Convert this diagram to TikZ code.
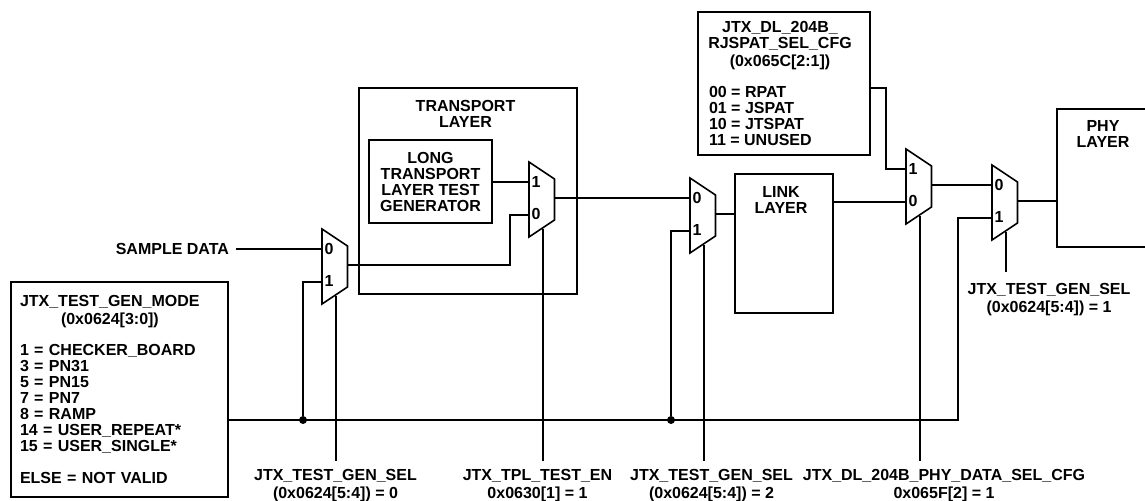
\documentclass[tikz,border=0pt]{standalone}
\usepackage{fontspec}
\setmainfont{Liberation Sans}
\usetikzlibrary{positioning,calc}
\newcommand{\pxu}{0.75pt}
\tikzset{
  wire/.style={line width=1.2pt},
  box/.style={draw,line width=1.2pt,inner sep=0pt,outer sep=0pt,anchor=north west},
  txt/.style={inner sep=0pt,outer sep=0pt,align=center},
  digit/.style={inner sep=0pt,outer sep=0pt},
  dotnode/.style={circle,fill=black,inner sep=0pt,minimum size=8*\pxu},
}
% name, left x, top y, upper digit, lower digit
\newcommand{\muxblock}[5]{
  \draw[wire] (#2,#3) -- ++(0,75) -- ++(25.5,-17) -- ++(0,-41) -- cycle;
  \coordinate (#1-a) at (#2,#3+20);
  \coordinate (#1-b) at (#2,#3+53);
  \coordinate (#1-o) at (#2+25.5,#3+36);
  \coordinate (#1-s) at (#2+14,#3+66.5);
  \node[digit] (#1-up) at (#2+7,#3+20) {#4};
  \node[digit] (#1-lo) at (#2+7,#3+52) {#5};
}
\begin{document}
\begin{tikzpicture}[x=\pxu,y=-\pxu,font=\fontsize{12}{12}\selectfont\bfseries]
\useasboundingbox (0,0) rectangle (1145,500);

\node[box,minimum width=217*\pxu,minimum height=215*\pxu,text width=199*\pxu,inner xsep=9*\pxu,align=left] (mode) at (11,282) {JTX\_TEST\_GEN\_MODE\\[1.5pt]
\hspace*{30.75pt}(0x0624[3:0])\\[11.25pt]
1 = CHECKER\_BOARD\\3 = PN31\\5 = PN15\\7 = PN7\\8 = RAMP\\14 = USER\_REPEAT*\\15 = USER\_SINGLE*\\[12pt]
ELSE = NOT VALID};

\node[box,minimum width=218*\pxu,minimum height=206*\pxu] (transport) at (359,88) {};
\node[txt] (transporttxt) at (465.5,114) {TRANSPORT\\LAYER};
\node[box,minimum width=123*\pxu,minimum height=83*\pxu,align=center] (long) at (369,140) {LONG\\TRANSPORT\\LAYER TEST\\GENERATOR};

\node[box,minimum width=98*\pxu,minimum height=139*\pxu] (link) at (735,174) {};
\node[txt] (linktxt) at (781,200) {LINK\\LAYER};

\node[box,minimum width=172*\pxu,minimum height=143*\pxu] (cfg) at (698,12) {};
\node[txt] (cfgtitle) at (780,46) {JTX\_DL\_204B\_\\RJSPAT\_SEL\_CFG\\[1.5pt](0x065C[2:1])};
\node[txt,align=left,anchor=west] (cfglist) at (709,116) {00 = RPAT\\01 = JSPAT\\10 = JTSPAT\\11 = UNUSED};

\draw[wire] (1145,109) -- (1057,109) -- (1057,247) -- (1145,247);
\coordinate (phy) at (1057,201);
\node[txt] (phytxt) at (1103,134) {PHY\\LAYER};

\muxblock{ma}{322}{229}{0}{1}
\muxblock{mb}{529}{162}{1}{0}
\muxblock{mc}{690}{178}{0}{1}
\muxblock{md}{906}{149}{1}{0}
\muxblock{me}{992}{165}{0}{1}

\node[txt,anchor=east,inner xsep=7*\pxu] (sample) at (236,249) {SAMPLE DATA};

\node[txt] (sela) at (335.5,486) {JTX\_TEST\_GEN\_SEL\\[1.5pt](0x0624[5:4]) = 0};
\node[txt] (selb) at (537.5,486) {JTX\_TPL\_TEST\_EN\\[1.5pt]0x0630[1] = 1};
\node[txt] (selc) at (711.5,486) {JTX\_TEST\_GEN\_SEL\\[1.5pt](0x0624[5:4]) = 2};
\node[txt] (seld) at (944,486) {JTX\_DL\_204B\_PHY\_DATA\_SEL\_CFG\\[1.5pt]0x065F[2] = 1};
\node[txt] (sele) at (1049,300) {JTX\_TEST\_GEN\_SEL\\[1.5pt](0x0624[5:4]) = 1};

\node[dotnode] (dota) at (303,420) {};
\node[dotnode] (dotb) at (671,420) {};
\coordinate (busend) at (958,420);

% data path
\draw[wire] (sample) -- (ma-a);
\draw[wire] (ma-o) -| ($(mb-b)+(-19,0)$) |- (mb-b);
\draw[wire] (long.east |- mb-a) -- (mb-a);
\draw[wire] (mb-o) -- (mc-a);
\draw[wire] (mc-o) -- (link.west |- mc-o);
\draw[wire] (link.east |- md-b) -- (md-b);
\draw[wire] (cfg.east |- 0,88) -| ($(md-a)+(-20,0)$) |- (md-a);
\draw[wire] (md-o) -- (me-a);
\draw[wire] (me-o) -- (phy);

% test bus
\draw[wire] (mode.east |- busend) -- (busend) |- (me-b);
\draw[wire] (dota) |- (ma-b);
\draw[wire] (dotb) |- (mc-b);

% select lines
\draw[wire] (ma-s) -- ++(0,165);
\draw[wire] (mb-s) -- (mb-s |- 0,461);
\draw[wire] (mc-s) -- (mc-s |- 0,461);
\draw[wire] (md-s) -- (md-s |- 0,461);
\draw[wire] (me-s) -- (me-s |- 0,272);
\end{tikzpicture}
\end{document}
